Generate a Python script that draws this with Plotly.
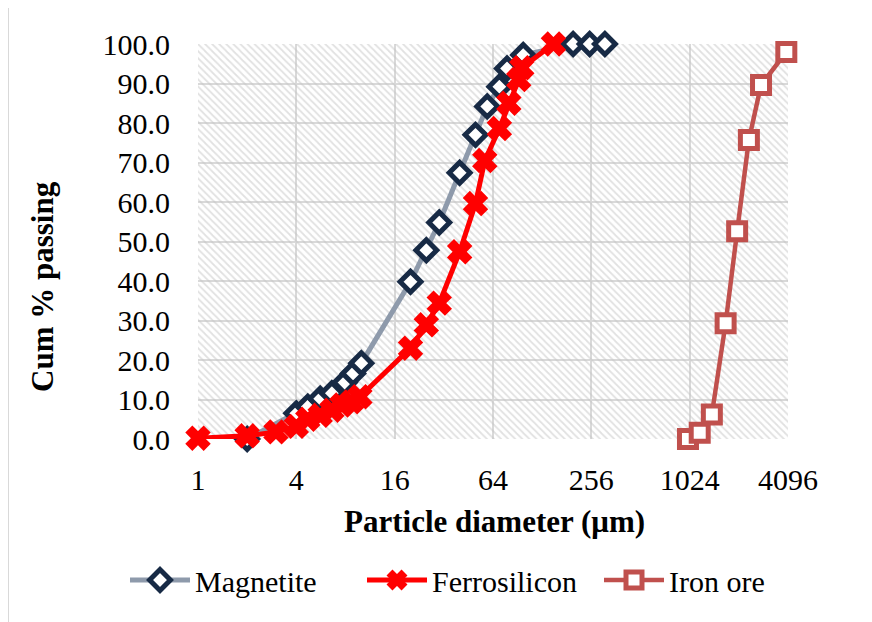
import math
import plotly.graph_objects as go

# ---- data ----
mag_x = [2, 4, 4.7, 5.6, 6.6, 7.9, 8.9, 10, 20, 25, 30, 40, 50, 59, 70, 78, 98, 198, 250, 310]
mag_y = [0.0, 6.5, 8.2, 10.2, 11.6, 14.3, 16.6, 19.2, 39.8, 47.8, 54.8, 67.4, 77.0, 84.2, 89.2, 93.8, 97.2, 100, 100, 100]

fesi_x = [1, 2, 3, 4, 4.7, 5.6, 6.6, 7.6, 8.7, 9.8, 20, 25, 30, 40, 50, 57, 70, 80, 92, 96, 150]
fesi_y = [0.2, 0.8, 1.8, 3.2, 5.0, 6.0, 7.3, 8.6, 9.4, 10.7, 23.0, 28.9, 34.4, 47.4, 59.6, 70.5, 78.6, 85.0, 91.0, 94.0, 100]

ore_x = [1000, 1180, 1400, 1700, 2000, 2360, 2800, 4000]
ore_y = [0.0, 1.6, 6.2, 29.3, 52.6, 75.7, 89.6, 98.0]

x_ticks = [1, 4, 16, 64, 256, 1024, 4096]
y_ticks = [0, 10, 20, 30, 40, 50, 60, 70, 80, 90, 100]

x_min, x_max = 1, 4096
y_min, y_max = 0, 100

FONT = "Liberation Serif, Times New Roman, serif"

fig = go.Figure()

# hatched plot background
fig.add_trace(go.Scatter(
    x=[x_min, x_max, x_max, x_min, x_min],
    y=[y_min, y_min, y_max, y_max, y_min],
    mode="none", fill="toself",
    fillcolor="rgba(0,0,0,0)",
    fillpattern=dict(shape="\\", fgcolor="#c4c4c4", bgcolor="rgba(0,0,0,0)",
                     size=5, solidity=0.35, fillmode="overlay"),
    showlegend=False, hoverinfo="skip",
))

fig.add_trace(go.Scatter(
    x=mag_x, y=mag_y, name="Magnetite", mode="lines+markers",
    line=dict(color="#8e9aab", width=5),
    marker=dict(symbol="diamond", size=16, color="white",
                line=dict(color="#172a45", width=5)),
    cliponaxis=False,
))
fig.add_trace(go.Scatter(
    x=fesi_x, y=fesi_y, name="Ferrosilicon", mode="lines+markers",
    line=dict(color="#ff0000", width=5),
    marker=dict(symbol="x", size=20, color="#ff0000",
                line=dict(color="#ff0000", width=2)),
    cliponaxis=False,
))
fig.add_trace(go.Scatter(
    x=ore_x, y=ore_y, name="Iron ore", mode="lines+markers",
    line=dict(color="#c0504d", width=4.5),
    marker=dict(symbol="square", size=17, color="white",
                line=dict(color="#c0504d", width=5)),
    cliponaxis=False,
))

OFF = 8  # page body margin offset
W, H = 872, 622
L = 198 - OFF
T = 44 - OFF
R = W - (788 - OFF)
B = H - (439 - OFF)
pw, ph = W - L - R, H - T - B


def px_x(v):
    return (v - OFF - L) / pw


def px_y(v):
    return (H - B - (v - OFF)) / ph


fig.update_layout(
    width=W, height=H,
    margin=dict(l=L, r=R, t=T, b=B, autoexpand=False),
    paper_bgcolor="white", plot_bgcolor="white",
    font=dict(family=FONT, size=30, color="#000000"),
    showlegend=True,
    legend=dict(orientation="h", x=px_x(125), xanchor="left",
                y=px_y(580), yanchor="middle",
                font=dict(family=FONT, size=30, color="#000000"),
                itemwidth=60, entrywidth=162, entrywidthmode="pixels",
                bgcolor="rgba(0,0,0,0)"),
    xaxis=dict(type="log", range=[math.log10(x_min), math.log10(x_max)],
               tickvals=x_ticks, ticktext=[str(v) for v in x_ticks],
               showgrid=True, gridcolor="#d9d9d9", gridwidth=2,
               zeroline=False, showline=False, automargin=False,
               ticks="outside", ticklen=14, tickcolor="rgba(0,0,0,0)",
               tickfont=dict(family=FONT, size=30, color="#000000")),
    yaxis=dict(range=[y_min, y_max], tickvals=y_ticks, tickformat=".1f",
               showgrid=True, gridcolor="#d9d9d9", gridwidth=2,
               zeroline=False, showline=False, automargin=False,
               ticks="outside", ticklen=21, tickcolor="rgba(0,0,0,0)",
               tickfont=dict(family=FONT, size=30, color="#000000")),
)

# axis titles as annotations
fig.add_annotation(text="<b>Particle diameter (μm)</b>", xref="paper", yref="paper",
                   x=px_x(495), y=px_y(521), xanchor="center", yanchor="middle",
                   showarrow=False, font=dict(family=FONT, size=31, color="#000000"))
fig.add_annotation(text="<b>Cum % passing</b>", xref="paper", yref="paper",
                   x=px_x(42), y=px_y(287), xanchor="center", yanchor="middle",
                   textangle=-90, showarrow=False,
                   font=dict(family=FONT, size=31, color="#000000"))

# chart-area border
fig.add_shape(type="rect", xref="paper", yref="paper",
              x0=px_x(8), x1=px_x(900), y0=px_y(660), y1=px_y(6),
              line=dict(color="#d9d9d9", width=2), fillcolor="rgba(0,0,0,0)", layer="below")

fig.write_html("out.html")
